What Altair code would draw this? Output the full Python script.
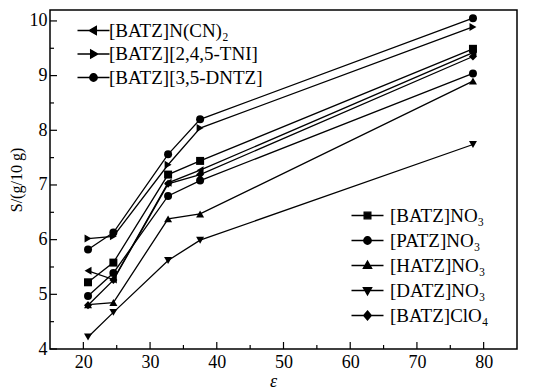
import altair as alt
import pandas as pd

# ---- data ----
EPS = [20.7, 24.5, 32.7, 37.5, 78.4]

SERIES_A = ["[BATZ]N(CN)₂", "[BATZ][2,4,5-TNI]", "[BATZ][3,5-DNTZ]"]
SERIES_B = ["[BATZ]NO₃", "[PATZ]NO₃", "[HATZ]NO₃", "[DATZ]NO₃", "[BATZ]ClO₄"]

S_BATZ_NCN2 = [5.43, 5.27, 7.04, 7.27, 9.42]
S_BATZ_TNI = [6.02, 6.06, 7.37, 8.04, 9.89]
S_BATZ_DNTZ = [5.82, 6.13, 7.56, 8.20, 10.05]
S_BATZ_NO3 = [5.22, 5.58, 7.19, 7.44, 9.49]
S_PATZ_NO3 = [4.97, 5.39, 6.80, 7.08, 9.04]
S_HATZ_NO3 = [4.81, 4.85, 6.38, 6.47, 8.90]
S_DATZ_NO3 = [4.22, 4.67, 5.62, 5.99, 7.74]
S_BATZ_CLO4 = [4.80, 5.26, 7.02, 7.19, 9.35]

X_TICKS = [20, 30, 40, 50, 60, 70, 80]
X_MINOR = [25, 35, 45, 55, 65, 75]
Y_TICKS = [4, 5, 6, 7, 8, 9, 10]
Y_MINOR = [4.5, 5.5, 6.5, 7.5, 8.5, 9.5]
X_DOMAIN = [15, 85]
Y_DOMAIN = [4, 10.2]

VALUES_A = [S_BATZ_NCN2, S_BATZ_TNI, S_BATZ_DNTZ]
VALUES_B = [S_BATZ_NO3, S_PATZ_NO3, S_HATZ_NO3, S_DATZ_NO3, S_BATZ_CLO4]

SHAPES_A = ["triangle-left", "triangle-right", "circle"]
SHAPES_B = ["square", "circle", "triangle-up", "triangle-down", "diamond"]

# legend symbols: a line with a marker (unit = 8 px)
LINE = "M-2,0H2"
P_SQUARE = LINE + "M-0.42,-0.42H0.42V0.42H-0.42Z"
P_CIRCLE = LINE + "M-0.47,0A0.47,0.47,0,1,0,0.47,0A0.47,0.47,0,1,0,-0.47,0Z"
P_UP = LINE + "M0,-0.55L0.52,0.36L-0.52,0.36Z"
P_DOWN = LINE + "M0,0.55L0.52,-0.36L-0.52,-0.36Z"
P_LEFT = LINE + "M-0.55,0L0.36,-0.52L0.36,0.52Z"
P_RIGHT = LINE + "M0.55,0L-0.36,-0.52L-0.36,0.52Z"
P_DIAMOND = LINE + "M0,-0.56L0.48,0L0,0.56L-0.48,0Z"
PATHS_A = [P_LEFT, P_RIGHT, P_CIRCLE]
PATHS_B = [P_SQUARE, P_CIRCLE, P_UP, P_DOWN, P_DIAMOND]

FONT = "Liberation Serif"


def frame(names, values):
    rows = []
    for n, vals in zip(names, values):
        for e, s in zip(EPS, vals):
            rows.append({"series": n, "eps": e, "S": s})
    return pd.DataFrame(rows)


dfA = frame(SERIES_A, VALUES_A)
dfB = frame(SERIES_B, VALUES_B)
df_all = pd.concat([dfA, dfB], ignore_index=True)

xscale = alt.Scale(domain=X_DOMAIN, nice=False, zero=False)
yscale = alt.Scale(domain=Y_DOMAIN, nice=False, zero=False)

xaxis = alt.Axis(values=X_TICKS, tickSize=0, domain=False, grid=False,
                 labelFont=FONT, labelFontSize=18, labelColor="black",
                 labelPadding=4, title="ε", titleFont=FONT, titleFontSize=18,
                 titleFontStyle="italic", titleFontWeight="normal",
                 titleColor="black", titlePadding=1, titleX=223)
yaxis = alt.Axis(values=Y_TICKS, tickSize=0, domain=False, grid=False,
                 labelFont=FONT, labelFontSize=18, labelColor="black",
                 labelPadding=3, title="S/(g/10 g)", titleFont=FONT,
                 titleFontSize=16, titleFontWeight="normal",
                 titleColor="black", titlePadding=5)


def X(field):
    return alt.X(field, scale=xscale, axis=xaxis)


def Y(field):
    return alt.Y(field, scale=yscale, axis=yaxis)


lines = alt.Chart(df_all).mark_line(color="black", strokeWidth=1.3).encode(
    x=X("eps:Q"), y=Y("S:Q"), detail="series:N",
)


def points(df, names, shapes):
    return alt.Chart(df).mark_point(filled=True, color="black", size=64, opacity=1).encode(
        x=X("eps:Q"), y=Y("S:Q"),
        shape=alt.Shape("series:N", scale=alt.Scale(domain=names, range=shapes), legend=None),
    )


def legend_layer(df, names, paths, lx, ly, rowpad, loff):
    return alt.Chart(df).mark_point(filled=False, fill="black", stroke="black",
                                    strokeWidth=1.3, opacity=0).encode(
        x=X("eps:Q"), y=Y("S:Q"),
        shape=alt.Shape(
            "series:N",
            scale=alt.Scale(domain=names, range=paths),
            legend=alt.Legend(title=None, orient="none", legendX=lx, legendY=ly,
                              symbolSize=256, symbolStrokeWidth=1.3,
                              symbolFillColor="black",
                              labelFont=FONT, labelFontSize=19, labelColor="black",
                              labelOffset=loff, rowPadding=rowpad, padding=0,
                              labelLimit=400),
        ),
    )


# tick marks (inward)
xt = pd.DataFrame({"eps": X_TICKS, "S": Y_DOMAIN[0]})
xm = pd.DataFrame({"eps": X_MINOR, "S": Y_DOMAIN[0]})
yt = pd.DataFrame({"S": Y_TICKS, "eps": X_DOMAIN[0]})
ym = pd.DataFrame({"S": Y_MINOR, "eps": X_DOMAIN[0]})


def xticks(d, length):
    return alt.Chart(d).mark_rule(color="black", strokeWidth=1.2, y2Offset=-length).encode(
        x=X("eps:Q"), y=Y("S:Q"), y2="S:Q",
    )


def yticks(d, length):
    return alt.Chart(d).mark_rule(color="black", strokeWidth=1.2, x2Offset=length).encode(
        y=Y("S:Q"), x=X("eps:Q"), x2="eps:Q",
    )


chart = alt.layer(
    lines,
    points(dfA, SERIES_A, SHAPES_A),
    points(dfB, SERIES_B, SHAPES_B),
    legend_layer(dfA, SERIES_A, PATHS_A, 34, 11, 3.5, 6),
    legend_layer(dfB, SERIES_B, PATHS_B, 308, 196, 5, 13),
    xticks(xt, 7), xticks(xm, 4), yticks(yt, 7), yticks(ym, 4),
).resolve_scale(shape="independent").properties(
    width=467, height=339,
    autosize=alt.AutoSizeParams(type="none"),
    padding={"left": 42, "top": 2, "right": 19, "bottom": 40},
).configure_view(stroke="black", strokeWidth=1.5)

chart.save("out.html", embed_options={"renderer": "svg", "actions": False})
